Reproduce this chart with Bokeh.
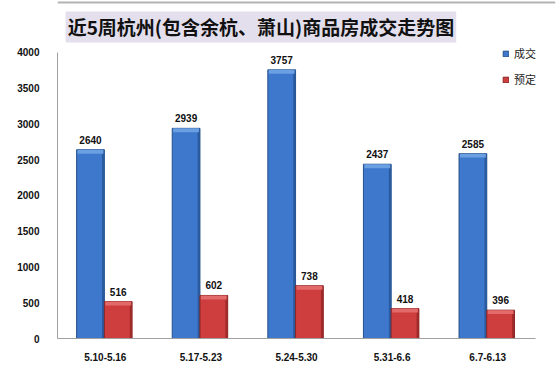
from bokeh.plotting import figure
from bokeh.models import (Range1d, FixedTicker, ColumnDataSource, LabelSet, Label,
                          Legend, LegendItem, Span)
from bokeh.core.properties import value
from bokeh.embed import file_html
from bokeh.resources import INLINE

title_text = "近5周杭州(包含余杭、萧山)商品房成交走势图"
categories = ["5.10-5.16", "5.17-5.23", "5.24-5.30", "5.31-6.6", "6.7-6.13"]
deals = [2640, 2939, 3757, 2437, 2585]      # 成交
reserved = [516, 602, 738, 418, 396]        # 预定
series_names = ["成交", "预定"]
y_ticks = [0, 500, 1000, 1500, 2000, 2500, 3000, 3500, 4000]

pos = [i + 0.5 for i in range(len(categories))]
W = 0.29
OFF_A = -0.155
OFF_B = 0.135

src = ColumnDataSource(dict(
    xa=[p_ + OFF_A for p_ in pos], xb=[p_ + OFF_B for p_ in pos],
    xa_r=[p_ + OFF_A + W / 2 - 0.012 for p_ in pos],
    xb_r=[p_ + OFF_B + W / 2 - 0.012 for p_ in pos],
    a=deals, b=reserved,
    a_cap=[v - 55 for v in deals], b_cap=[v - 55 for v in reserved],
    at=[str(v) for v in deals], bt=[str(v) for v in reserved],
))

# frame spans y=0..338 px (4000 at y=52), x=57..555 px (category area 57..535)
p = figure(width=560, height=370, output_backend="svg", toolbar_location=None,
           x_range=Range1d(0, 5.209), y_range=Range1d(0, 4727),
           min_border_left=57, min_border_right=5, min_border_top=0,
           min_border_bottom=32)
p.outline_line_color = None
p.xgrid.grid_line_color = None
p.ygrid.grid_line_color = None
p.background_fill_color = "white"
p.border_fill_color = "white"

# spreadsheet border line at the very top
p.add_layout(Span(location=4699, dimension="width", line_color="#B4B4B4", line_width=2))

blue_main, blue_dark, blue_light, blue_edge = "#3D78CC", "#2A5A9E", "#6A9FE2", "#25508C"
red_main, red_dark, red_light, red_edge = "#CF3E3E", "#9E2A2A", "#E26A6A", "#8A2424"

ra = p.vbar(x="xa", width=W, top="a", bottom=0, source=src,
            fill_color=blue_main, line_color=blue_edge, line_width=1)
p.vbar(x="xa_r", width=0.024, top="a", bottom=0, source=src,
       fill_color=blue_dark, line_color=None)
p.vbar(x="xa", width=W - 0.02, top="a", bottom="a_cap", source=src,
       fill_color=blue_light, line_color=None)

rb = p.vbar(x="xb", width=W, top="b", bottom=0, source=src,
            fill_color=red_main, line_color=red_edge, line_width=1)
p.vbar(x="xb_r", width=0.024, top="b", bottom=0, source=src,
       fill_color=red_dark, line_color=None)
p.vbar(x="xb", width=W - 0.02, top="b", bottom="b_cap", source=src,
       fill_color=red_light, line_color=None)

lab_kw = dict(text_font=value("Liberation Sans"), text_font_size=value("10px"),
              text_color="#111111", text_font_style="bold",
              text_align="center", text_baseline="bottom", y_offset=6, source=src)
p.add_layout(LabelSet(x="xa", y="a", text="at", **lab_kw))
p.add_layout(LabelSet(x="xb", y="b", text="bt", **lab_kw))

# axes
p.xaxis.ticker = FixedTicker(ticks=pos)
p.xaxis.major_label_overrides = {pp: c for pp, c in zip(pos, categories)}
p.xaxis.bounds = (0, len(categories))
p.yaxis.ticker = FixedTicker(ticks=y_ticks)
p.yaxis.bounds = (0, 4000)
for ax in (p.xaxis, p.yaxis):
    ax.axis_line_color = "#A0A0A0"
    ax.axis_line_width = 1
    ax.major_tick_line_color = None
    ax.minor_tick_line_color = None
    ax.major_label_text_font = "Liberation Sans"
    ax.major_label_text_font_size = "10px"
    ax.major_label_text_font_style = "bold"
    ax.major_label_text_color = "#111111"
p.xaxis.major_label_standoff = 8
p.yaxis.major_label_standoff = 12

# title box
p.add_layout(Label(x=0.085, y=4357, x_units="data", y_units="data", text=title_text,
                   text_font="Noto Sans CJK SC", text_font_size="19px",
                   text_font_style="bold", text_color="#111111",
                   text_align="left", text_baseline="middle",
                   background_fill_color="#E4DFEC", padding=2))

legend = Legend(items=[LegendItem(label=series_names[0], renderers=[ra]),
                       LegendItem(label=series_names[1], renderers=[rb])],
                location=(445, 251), orientation="vertical",
                label_text_font="Noto Sans CJK SC", label_text_font_size="11px",
                label_text_color="#222222",
                glyph_width=7, glyph_height=7, label_standoff=5,
                label_height=12, spacing=10, padding=0, margin=0,
                border_line_color=None, background_fill_alpha=0)
p.add_layout(legend)

open("out.html", "w").write(file_html(p, INLINE))
